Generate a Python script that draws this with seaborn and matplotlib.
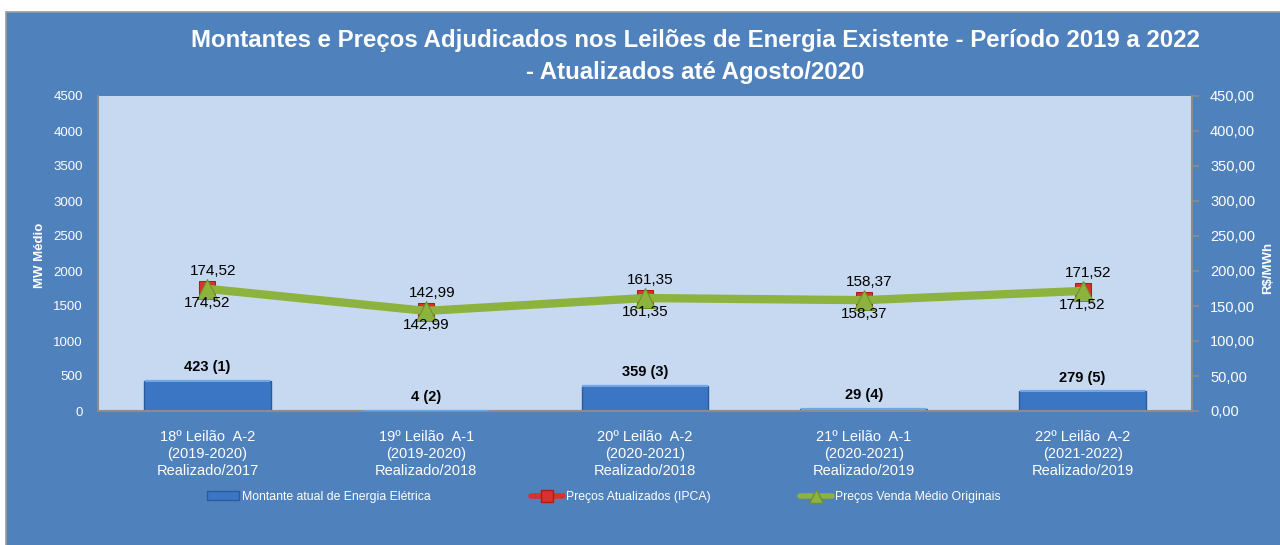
import numpy as np
import pandas as pd
import matplotlib
matplotlib.use("Agg")
import matplotlib.pyplot as plt
import seaborn as sns
from matplotlib import font_manager
from matplotlib.patches import Rectangle
from matplotlib.lines import Line2D
from matplotlib.ticker import FuncFormatter, MultipleLocator

# ----------------------------------------------------------
# Data
# ----------------------------------------------------------
leiloes = [
    "18º Leilão  A-2\n(2019-2020)\nRealizado/2017",
    "19º Leilão  A-1\n(2019-2020)\nRealizado/2018",
    "20º Leilão  A-2\n(2020-2021)\nRealizado/2018",
    "21º Leilão  A-1\n(2020-2021)\nRealizado/2019",
    "22º Leilão  A-2\n(2021-2022)\nRealizado/2019",
]
montante = [423, 4, 359, 29, 279]
montante_labels = ["423 (1)", "4 (2)", "359 (3)", "29 (4)", "279 (5)"]
preco_ipca = [174.52, 142.99, 161.35, 158.37, 171.52]
preco_original = [174.52, 142.99, 161.35, 158.37, 171.52]

df = pd.DataFrame({"leilao": leiloes, "montante": montante,
                   "ipca": preco_ipca, "original": preco_original})
df["pos"] = np.arange(len(df))

PANEL = "#4F81BD"
PLOT_BG = "#C6D9F1"
BAR = "#3B76C4"
RED = "#D9322B"
GREEN = "#8DB33F"

sns.set_theme(style="white")
installed = {f.name for f in font_manager.fontManager.ttflist}
main_font = "Liberation Sans" if "Liberation Sans" in installed else "DejaVu Sans"
plt.rcParams["font.family"] = [main_font, "DejaVu Sans"]

fig = plt.figure(figsize=(12.8, 5.45), dpi=100, facecolor="white")
fig.add_artist(Rectangle((6 / 1280, -0.01), 1.0, 1 - 12 / 545 + 0.01,
                         transform=fig.transFigure, facecolor=PANEL,
                         edgecolor="#9A9A9A", lw=1.2, zorder=-1))

ax = fig.add_axes([98 / 1280, 1 - 411 / 545, (1192 - 98) / 1280, (411 - 96) / 545])
ax.set_facecolor(PLOT_BG)

sns.barplot(data=df, x="pos", y="montante", ax=ax, color=BAR, width=0.58,
            edgecolor="#2B5C9E", linewidth=1.0, saturation=1)
# light bevel along the top of each bar
for p in ax.patches:
    ax.plot([p.get_x() + 0.004, p.get_x() + p.get_width() - 0.004],
            [p.get_height()] * 2, color="#6FA6E8", lw=1.6,
            solid_capstyle="butt", zorder=3)
ax.set_xlim(-0.5, 4.5)
ax.set_ylim(0, 4500)
ax.yaxis.set_major_locator(MultipleLocator(500))
ax.set_xticks(range(len(leiloes)))
ax.set_xticklabels(leiloes, color="white", fontsize=10.5, linespacing=1.25)
ax.tick_params(axis="x", length=0, pad=14)
ax.tick_params(axis="y", length=0, pad=11, labelcolor="white", labelsize=9.5)
ax.set_xlabel("")
ax.set_ylabel("")
for s in ["top", "right"]:
    ax.spines[s].set_visible(False)
for s in ["left", "bottom"]:
    ax.spines[s].set_color("#8C8C8C")
    ax.spines[s].set_linewidth(1.5)

for x, v, lab in zip(df["pos"], montante, montante_labels):
    ax.annotate(lab, (x, v), xytext=(0, 5), textcoords="offset points",
                ha="center", va="bottom", fontsize=10.5, fontweight="bold",
                color="black")

# prices on secondary axis
ax2 = ax.twinx()
sns.lineplot(data=df, x="pos", y="ipca", ax=ax2, color=RED, lw=3,
             marker="s", markersize=12, markeredgecolor="#A31F1A",
             markerfacecolor=RED, zorder=3)
sns.lineplot(data=df, x="pos", y="original", ax=ax2, color=GREEN, lw=6,
             marker="^", markersize=15, markeredgecolor="#6E8F2A",
             markerfacecolor=GREEN, zorder=4)
ax2.set_ylim(0, 450)
ax2.set_xlim(-0.5, 4.5)
ax2.yaxis.set_major_locator(MultipleLocator(50))
ax2.yaxis.set_major_formatter(FuncFormatter(lambda v, p: f"{v:.2f}".replace(".", ",")))
ax2.tick_params(axis="y", length=5, width=1.2, color="#8C8C8C", pad=8,
                labelcolor="white", labelsize=10.5)
ax2.set_xlabel("")
ax2.set_ylabel("")
for s in ["top", "left", "bottom"]:
    ax2.spines[s].set_visible(False)
ax2.spines["right"].set_color("#8C8C8C")
ax2.spines["right"].set_linewidth(1.5)

for x, a, b in zip(df["pos"], preco_ipca, preco_original):
    ax2.annotate(f"{a:.2f}".replace(".", ","), (x, a), xytext=(4, 8),
                 textcoords="offset points", ha="center", va="bottom",
                 fontsize=11, color="black", zorder=5)
    ax2.annotate(f"{b:.2f}".replace(".", ","), (x, b), xytext=(0, -5),
                 textcoords="offset points", ha="center", va="top",
                 fontsize=11, color="black", zorder=5)

fig.text(695 / 1280, 1 - 57 / 545,
         "Montantes e Preços Adjudicados nos Leilões de Energia Existente - Período 2019 a 2022\n"
         "- Atualizados até Agosto/2020",
         ha="center", va="center", fontsize=17.3, fontweight="bold",
         color="white", linespacing=1.5)
fig.text(40 / 1280, 1 - 255 / 545, "MW Médio", rotation=90, ha="center",
         va="center", fontsize=9.5, fontweight="bold", color="white")
fig.text(1268 / 1280, 1 - 268 / 545, "R$/MWh", rotation=90, ha="center",
         va="center", fontsize=9.5, fontweight="bold", color="white")

# legend: three separate entries placed along the bottom
leg_items = [
    (Rectangle((0, 0), 1, 1, facecolor=BAR, edgecolor="#2B5C9E"),
     "Montante atual de Energia Elétrica", 207),
    (Line2D([], [], color=RED, lw=4, marker="s", markersize=9,
            markerfacecolor=RED, markeredgecolor="#A31F1A"),
     "Preços Atualizados (IPCA)", 531),
    (Line2D([], [], color=GREEN, lw=4, marker="^", markersize=10,
            markerfacecolor=GREEN, markeredgecolor="#6E8F2A"),
     "Preços Venda Médio Originais", 800),
]
for h, lab, xpx in leg_items:
    fig.legend([h], [lab], loc="center left",
               bbox_to_anchor=(xpx / 1280, 1 - 497 / 545),
               frameon=False, fontsize=8.8, labelcolor="white",
               handlelength=2.6, handletextpad=0.25, borderpad=0,
               borderaxespad=0)

fig.savefig("out.png", dpi=100, facecolor=fig.get_facecolor())
